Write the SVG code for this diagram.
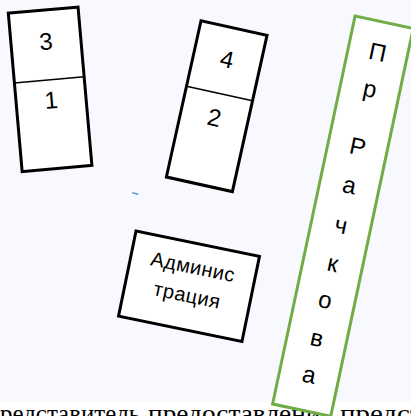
<svg xmlns="http://www.w3.org/2000/svg" width="411" height="416" viewBox="0 0 411 416">
<style>
.box{fill:#ffffff;stroke:#000000;stroke-width:3}
.gbox{fill:#ffffff;stroke:#70ad47;stroke-width:3}
.div{stroke:#000000;stroke-width:1.5}
.num{font-family:"Liberation Sans","DejaVu Sans",sans-serif;font-size:24px;fill:#000000;text-anchor:middle}
.let{font-family:"Liberation Sans","DejaVu Sans",sans-serif;font-size:24px;fill:#000000;text-anchor:middle}
.adm{font-family:"Liberation Sans","DejaVu Sans",sans-serif;font-size:20px;fill:#000000;text-anchor:middle;letter-spacing:0.5px}
.bot{font-family:"Liberation Serif","DejaVu Serif",serif;font-size:26px;fill:#000000}
</style>
<rect x="0" y="0" width="411" height="402" fill="#f7f9fe"/>
<rect x="0" y="402" width="411" height="14" fill="#ffffff"/>
<g id="bottom-text">
<text class="bot" x="0" y="422" textLength="140" lengthAdjust="spacingAndGlyphs">редставитель</text>
<text class="bot" x="148" y="422" textLength="185" lengthAdjust="spacingAndGlyphs">предоставления</text>
<text class="bot" x="340" y="422" textLength="178" lengthAdjust="spacingAndGlyphs">представителя</text>
</g>
<g id="connectors">
<line x1="132.3" y1="192.7" x2="138.3" y2="194.3" stroke="#5b9bd5" stroke-width="1.5"/>
</g>
<g id="node-3-1" transform="translate(50.1,89.3) rotate(-5)">
<rect class="box" x="-35" y="-79.5" width="70" height="159"/>
<line class="div" x1="-35" y1="-9.5" x2="35" y2="-9.5"/>
<text class="num" x="0" y="-39.9">3</text>
<text class="num" x="0" y="19.3">1</text>
</g>
<g id="node-4-2" transform="translate(216.7,106.2) rotate(12.5)">
<rect class="box" x="-33.8" y="-80" width="67.6" height="160"/>
<line class="div" x1="-33.8" y1="-13" x2="33.8" y2="-13"/>
<text class="num" x="0" y="-39.6">4</text>
<text class="num" x="0" y="19.9">2</text>
</g>
<g id="node-admin" transform="translate(189,286.25) rotate(11.6)">
<rect class="box" x="-63" y="-43.5" width="126" height="87"/>
<text class="adm" x="0" y="-13">Админис</text>
<text class="adm" x="0" y="16">трация</text>
</g>
<g id="node-prachkova" transform="translate(342.9,216.2) rotate(12)">
<rect class="gbox" x="-29.7" y="-198.3" width="59.4" height="396.6"/>
<text class="let" x="0" y="-159.3">П</text>
<text class="let" x="0" y="-122">р</text>
<text class="let" x="0" y="-62.9">Р</text>
<text class="let" x="0" y="-23.7">а</text>
<text class="let" x="0" y="17.2">ч</text>
<text class="let" x="0" y="56.3">к</text>
<text class="let" x="0" y="93.7">о</text>
<text class="let" x="0" y="132.8">в</text>
<text class="let" x="0" y="170.1">а</text>
</g>
</svg>
